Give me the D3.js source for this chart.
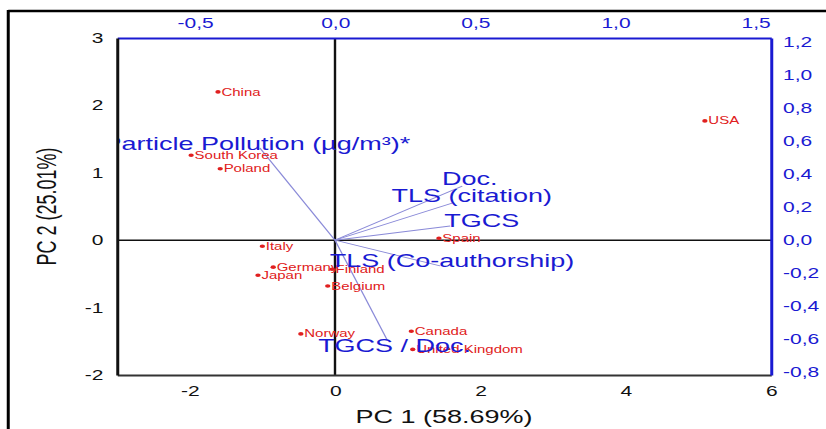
<!DOCTYPE html>
<html><head><meta charset="utf-8">
<script src="https://cdn.jsdelivr.net/npm/d3@7"></script>
<style>body{margin:0;background:#fff} svg{display:block} text{font-family:"Liberation Sans",Arial,sans-serif}</style>
</head><body><svg id="c" width="826" height="429"></svg>
<script>
// ---- data ----
const countries = ["China","South Korea","Poland","USA","Italy","Germany","Japan","Finland","Belgium","Norway","Canada","United Kingdom","Spain"];
const pc1Scores = [-1.61,-1.98,-1.58,5.09,-1.00,-0.85,-1.06,-0.04,-0.10,-0.47,1.05,1.07,1.43];
const pc2Scores = [2.20,1.26,1.06,1.77,-0.09,-0.40,-0.52,-0.43,-0.68,-1.39,-1.35,-1.62,0.03];
const variables = ["Particle Pollution (µg/m³)*","Doc.","TLS (citation)","TGCS","TLS (Co-authorship)","TGCS / Doc."];
const pc1Loadings = [-0.268,0.454,0.418,0.411,0.375,0.186];
const pc2Loadings = [0.559,0.328,0.225,0.086,-0.156,-0.605];
const pc1Ticks = [-2,0,2,4,6];
const pc2Ticks = [-2,-1,0,1,2,3];
const loadXTicks = [-0.5,0,0.5,1,1.5];
const loadYTicks = [-0.8,-0.6,-0.4,-0.2,0,0.2,0.4,0.6,0.8,1,1.2];
const xTitle = "PC 1 (58.69%)", yTitle = "PC 2 (25.01%)";

// ---- style / layout ----
const varLabelOffset = [[-2,2],[5,-1],[13,-1],[21,1],[8,1],[5,12]];
const S = 1.5; // horizontal stretch of the original picture
const L = 78, R = 514, T = 38, B = 375;
const blue = "#1a1ad2", red = "#e02020";

const svg = d3.select("#c");
svg.append("rect").attr("width",826).attr("height",429).attr("fill","#fff");
const g = svg.append("g").attr("transform",`scale(${S},1)`);

const x = d3.scaleLinear([-3,6],[L,R]);
const y = d3.scaleLinear([-2,3],[B,T]);
const lx = d3.scaleLinear([-3/3.857,6/3.857],[L,R]);
const ly = d3.scaleLinear([-2/2.445,3/2.445],[B,T]);

// outer border
g.append("line").attr("x1",5.5).attr("x2",826).attr("y1",11).attr("y2",11).attr("stroke","#000").attr("stroke-width",2.5);
g.append("line").attr("x1",5.5).attr("x2",5.5).attr("y1",10).attr("y2",429).attr("stroke","#000").attr("stroke-width",2);

g.append("clipPath").attr("id","clip").append("rect").attr("x",L).attr("y",T).attr("width",R-L).attr("height",B-T);
const plot = g.append("g").attr("clip-path","url(#clip)");

// zero lines
plot.append("line").attr("x1",L).attr("x2",R).attr("y1",y(0)).attr("y2",y(0)).attr("stroke","#111").attr("stroke-width",1.6);
plot.append("line").attr("x1",x(0)).attr("x2",x(0)).attr("y1",T).attr("y2",B).attr("stroke","#111").attr("stroke-width",1.6);

// loading vectors
plot.selectAll("line.vec").data(variables).join("line").attr("class","vec")
  .attr("x1",lx(0)).attr("y1",ly(0))
  .attr("x2",(d,i)=>lx(pc1Loadings[i])).attr("y2",(d,i)=>ly(pc2Loadings[i]))
  .attr("stroke","#8a8ad8").attr("stroke-width",0.9);

// country scores
plot.selectAll("ellipse.pt").data(countries).join("circle").attr("class","pt")
  .attr("cx",(d,i)=>x(pc1Scores[i])).attr("cy",(d,i)=>y(pc2Scores[i])).attr("r",1.8).attr("fill",red);
plot.selectAll("text.cn").data(countries).join("text").attr("class","cn")
  .attr("x",(d,i)=>x(pc1Scores[i])+2.3).attr("y",(d,i)=>y(pc2Scores[i])+3.6)
  .attr("font-size",10).attr("fill",red).text(d=>d);

// variable labels
plot.selectAll("text.var").data(variables).join("text").attr("class","var")
  .attr("x",(d,i)=>lx(pc1Loadings[i])+varLabelOffset[i][0])
  .attr("y",(d,i)=>ly(pc2Loadings[i])+varLabelOffset[i][1])
  .attr("text-anchor","middle").attr("font-size",18).attr("fill",blue).text(d=>d);

// axes
const fmtL = v => v.toFixed(1).replace(".",",");
const fmtI = v => String(v);
function styleAxis(sel, lineColor, textColor, w){
  sel.attr("font-family",null).attr("font-size",null);
  sel.select(".domain").attr("stroke",lineColor).attr("stroke-width",w);
  sel.selectAll("text").attr("font-size",14).attr("fill",textColor);
}
g.append("g").attr("transform",`translate(0,${B})`)
  .call(d3.axisBottom(x).tickValues(pc1Ticks).tickFormat(fmtI).tickSize(0).tickPadding(11))
  .call(s=>styleAxis(s,"#333","#111",2));
g.append("g").attr("transform",`translate(0,${T})`)
  .call(d3.axisTop(lx).tickValues(loadXTicks).tickFormat(fmtL).tickSize(0).tickPadding(10))
  .call(s=>styleAxis(s,blue,blue,2));
g.append("g").attr("transform",`translate(${L},0)`)
  .call(d3.axisLeft(y).tickValues(pc2Ticks).tickFormat(fmtI).tickSize(0).tickPadding(9))
  .call(s=>styleAxis(s,"#111","#111",2));
g.append("g").attr("transform",`translate(${R},0)`)
  .call(d3.axisRight(ly).tickValues(loadYTicks).tickFormat(fmtL).tickSize(0).tickPadding(8))
  .call(s=>styleAxis(s,blue,blue,2));

// titles
g.append("text").attr("x",(L+R)/2).attr("y",423).attr("text-anchor","middle").attr("font-size",18).attr("fill","#111").text(xTitle);
g.append("text").attr("transform",`translate(37.5,${(T+B)/2}) rotate(-90)`).attr("text-anchor","middle").attr("font-size",18).attr("fill","#111").text(yTitle);
</script>
</body></html>
